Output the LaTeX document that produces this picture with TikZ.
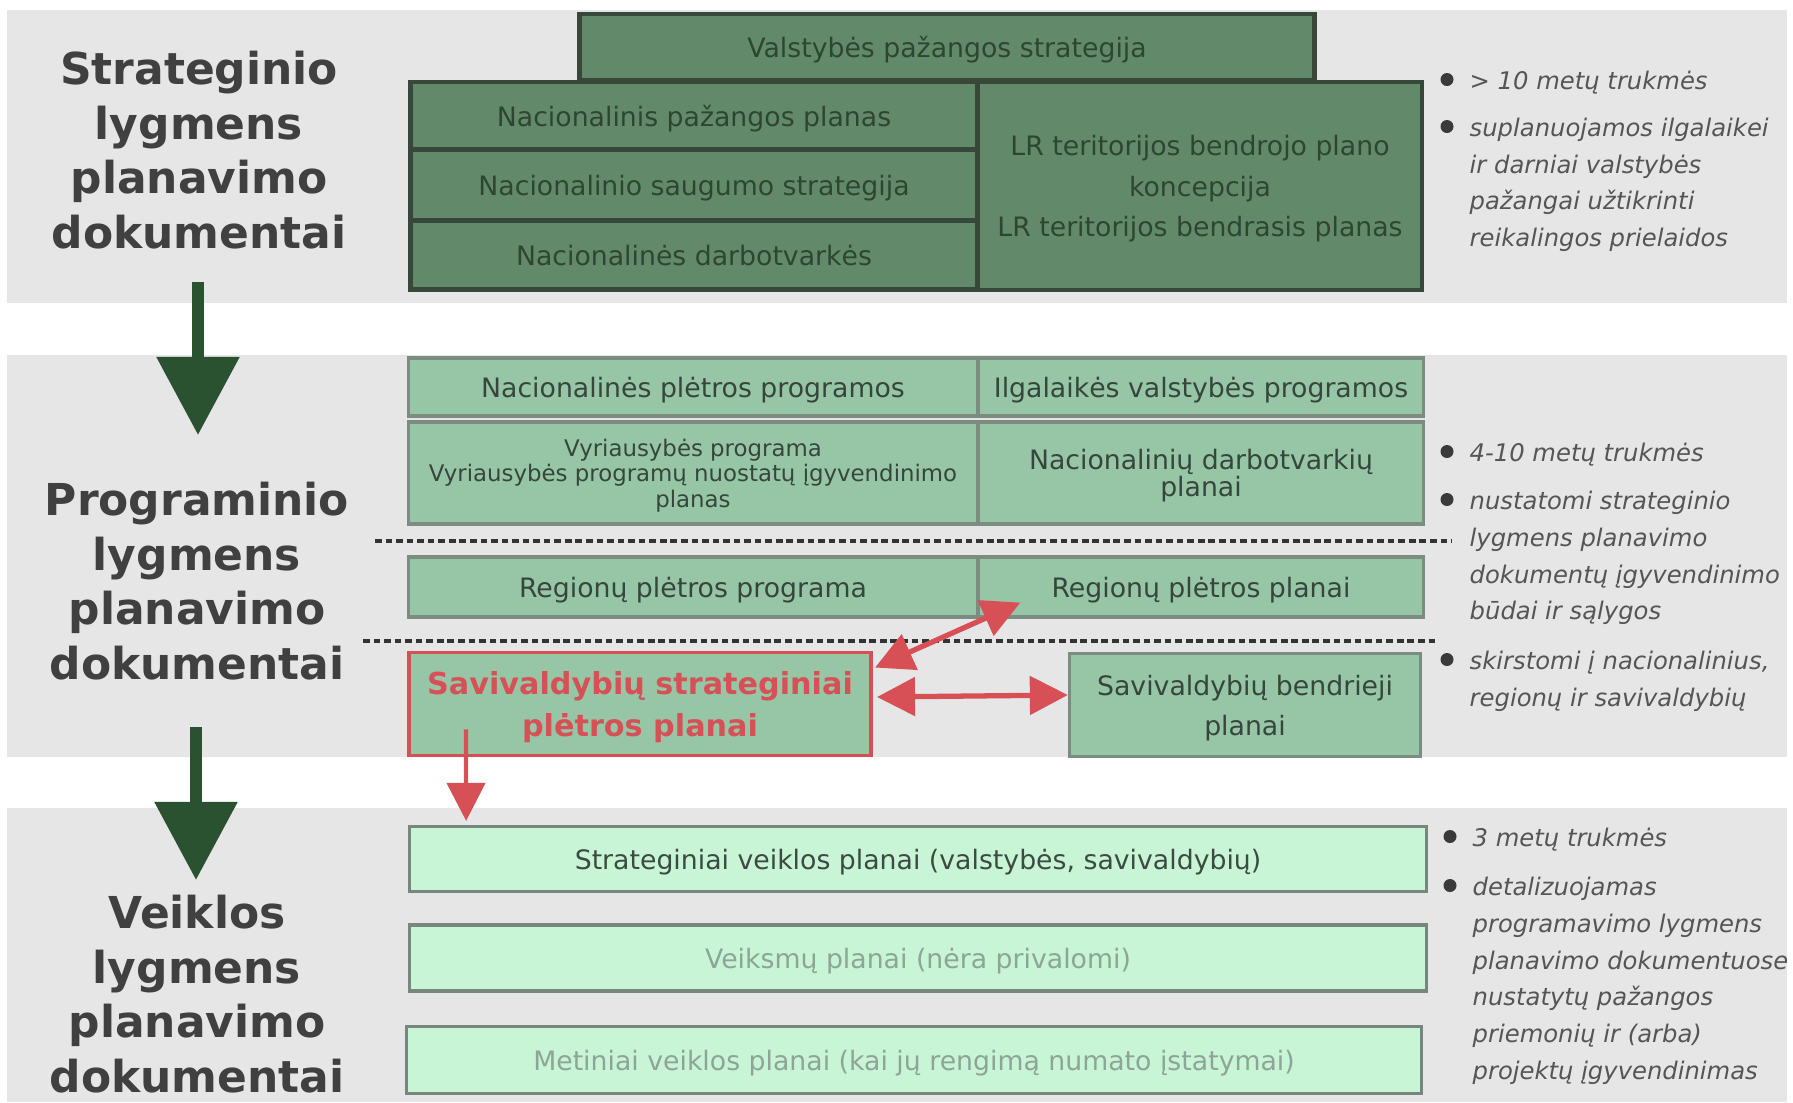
\documentclass[tikz,border=0pt]{standalone}
\usepackage{fontspec}
\setmainfont{DejaVu Sans}
\usepackage{xcolor}
\usepackage{tikz}
\usetikzlibrary{arrows.meta}
\usetikzlibrary{calc}

\definecolor{bandgray}{HTML}{E6E6E6}
\definecolor{headgray}{HTML}{404040}
\definecolor{darkfill}{HTML}{628A6A}
\definecolor{darkedge}{HTML}{37483A}
\definecolor{darktext}{HTML}{2D4632}
\definecolor{midfill}{HTML}{96C6A6}
\definecolor{midedge}{HTML}{7D8C80}
\definecolor{midtext}{HTML}{37463C}
\definecolor{lightfill}{HTML}{C8F5D6}
\definecolor{lightedge}{HTML}{78877D}
\definecolor{lighttext}{HTML}{3C4B41}
\definecolor{paletext}{HTML}{8CA596}
\definecolor{linkred}{HTML}{D65056}
\definecolor{arrowgreen}{HTML}{2A5230}
\definecolor{notegray}{HTML}{555555}
\definecolor{dotgray}{HTML}{3A3A3A}

\begin{document}
\begin{tikzpicture}[x=0.01cm, y=-0.01cm]
		\useasboundingbox (0,0) rectangle (1793,1102);
		% three level bands
		\fill[bandgray] (7,10) rectangle (1787,303);
		\fill[bandgray] (7,355) rectangle (1787,757);
		\fill[bandgray] (7,808) rectangle (1787,1102);
		\begin{scope}[every node/.style = {align=center, text=headgray, font=\fontsize{12.5}{15.5}\selectfont\bfseries}]
			\node (strat) at (199,150) {Strateginio\\lygmens\\planavimo\\dokumentai};
			\node (progr) at (197,581) {Programinio\\lygmens\\planavimo\\dokumentai};
			\node (veikl) at (197,994) {Veiklos\\lygmens\\planavimo\\dokumentai};
		\end{scope}
		\begin{scope}[every node/.style = {rectangle, draw=darkedge, line width=1.3pt, fill=darkfill, text=darktext, inner sep=0pt, text depth=0pt, align=center, font=\fontsize{7.6}{11.5}\selectfont}]
			\node[minimum width=7.35cm, minimum height=0.66cm] (vps) at (947,47) {Valstybės pažangos strategija};
			\node[minimum width=5.67cm, minimum height=0.68cm] (npp) at (694,116) {Nacionalinis pažangos planas};
			\node[minimum width=5.67cm, minimum height=0.71cm] (nss) at (694,185) {Nacionalinio saugumo strategija};
			\node[minimum width=5.67cm, minimum height=0.69cm] (nd) at (694,255) {Nacionalinės darbotvarkės};
			\node[minimum width=4.44cm, minimum height=2.08cm] (lr) at (1200,186) {LR teritorijos bendrojo plano\\koncepcija\\LR teritorijos bendrasis planas};
		\end{scope}
		\begin{scope}[every node/.style = {rectangle, draw=midedge, line width=0.9pt, fill=midfill, text=midtext, inner sep=0pt, text depth=0pt, align=center, font=\fontsize{7.6}{11.4}\selectfont}]
			\node[minimum width=5.68cm, minimum height=0.58cm] (npr) at (693,387) {Nacionalinės plėtros programos};
			\node[minimum width=4.44cm, minimum height=0.58cm] (ivp) at (1201,387) {Ilgalaikės valstybės programos};
			\node[minimum width=5.68cm, minimum height=1.02cm, font=\fontsize{6.5}{7.3}\selectfont] (vp) at (693,473) {Vyriausybės programa\\Vyriausybės programų nuostatų įgyvendinimo\\planas};
			\node[minimum width=4.44cm, minimum height=1.02cm, font=\fontsize{7.6}{7.7}\selectfont] (ndp) at (1201,473) {Nacionalinių darbotvarkių\\planai};
			\node[minimum width=5.68cm, minimum height=0.60cm] (rpp) at (693,587) {Regionų plėtros programa};
			\node[minimum width=4.44cm, minimum height=0.60cm] (rpl) at (1201,587) {Regionų plėtros planai};
			\node[minimum width=4.62cm, minimum height=1.03cm, draw=linkred, line width=1.1pt, text=linkred, font=\fontsize{8.6}{11.7}\selectfont\bfseries] (ssp) at (640,704) {Savivaldybių strateginiai\\plėtros planai};
			\node[minimum width=3.51cm, minimum height=1.03cm] (sbp) at (1245,705) {Savivaldybių bendrieji\\planai};
		\end{scope}
		\begin{scope}[every node/.style = {rectangle, draw=lightedge, line width=0.9pt, fill=lightfill, text=lighttext, inner sep=0pt, text depth=0pt, align=center, font=\fontsize{7.6}{9.5}\selectfont}]
			\node[minimum width=10.16cm, minimum height=0.65cm] (svp) at (918,859) {Strateginiai veiklos planai (valstybės, savivaldybių)};
			\node[minimum width=10.16cm, minimum height=0.66cm, text=paletext] (vkp) at (918,958) {Veiksmų planai (nėra privalomi)};
			\node[minimum width=10.14cm, minimum height=0.67cm, text=paletext] (mvp) at (914,1060) {Metiniai veiklos planai (kai jų rengimą numato įstatymai)};
		\end{scope}
		% dotted separators
		\draw[line width=0.9pt, dash pattern=on 1.9pt off 1.1pt, black!80] (375,541) -- (1452,541);
		\draw[line width=0.9pt, dash pattern=on 1.9pt off 1.1pt, black!80] (363,641) -- (1438,641);
		\begin{scope}[every node/.style = {anchor=north west, align=left, inner sep=0pt, text=notegray, font=\fontsize{6.9}{10.5}\selectfont\itshape}]
			\node (n1a) at (1469,70) {> 10 metų trukmės};
			\node (n1b) at (1469,117) {suplanuojamos ilgalaikei\\ir darniai valstybės\\pažangai užtikrinti\\reikalingos prielaidos};
			\node (n2a) at (1469,442) {4-10 metų trukmės};
			\node (n2b) at (1469,490) {nustatomi strateginio\\lygmens planavimo\\dokumentų įgyvendinimo\\būdai ir sąlygos};
			\node (n2c) at (1469,650) {skirstomi į nacionalinius,\\regionų ir savivaldybių};
			\node (n3a) at (1472,827) {3 metų trukmės};
			\node (n3b) at (1472,876) {detalizuojamas\\programavimo lygmens\\planavimo dokumentuose\\nustatytų pažangos\\priemonių ir (arba)\\projektų įgyvendinimas};
		\end{scope}
		\foreach \n in {n1a,n1b,n2a,n2b,n2c,n3a,n3b}
			\fill[dotgray] ($(\n.north west)+(-22,9.5)$) circle (6.5);
		% level arrows
		\coordinate (a1s) at (198,282);
		\coordinate (a1e) at (198,435);
		\coordinate (a2s) at (196,727);
		\coordinate (a2e) at (196,880);
		\begin{scope}[>={Triangle[length=22.2pt, width=22.8pt]}]
			\draw[->, arrowgreen, line width=3.4pt] (a1s) -- (a1e);
			\draw[->, arrowgreen, line width=3.4pt] (a2s) -- (a2e);
		\end{scope}
		\begin{scope}[>={Triangle[length=10.8pt, width=10.8pt]}]
			\draw[<->, linkred, line width=1.5pt] ($(ssp.north east)+(2,17)$) -- ($(rpl.south west)+(43,-16)$);
			\draw[<->, linkred, line width=1.5pt] ($(ssp.east)+(4,-7)$) -- ($(sbp.west)+(0,-10)$);
			\draw[->, linkred, line width=1.2pt] ($(ssp.south west)+(59,-28)$) -- ($(svp.north west)+(58,-4)$);
		\end{scope}
	\end{tikzpicture}
\end{document}
